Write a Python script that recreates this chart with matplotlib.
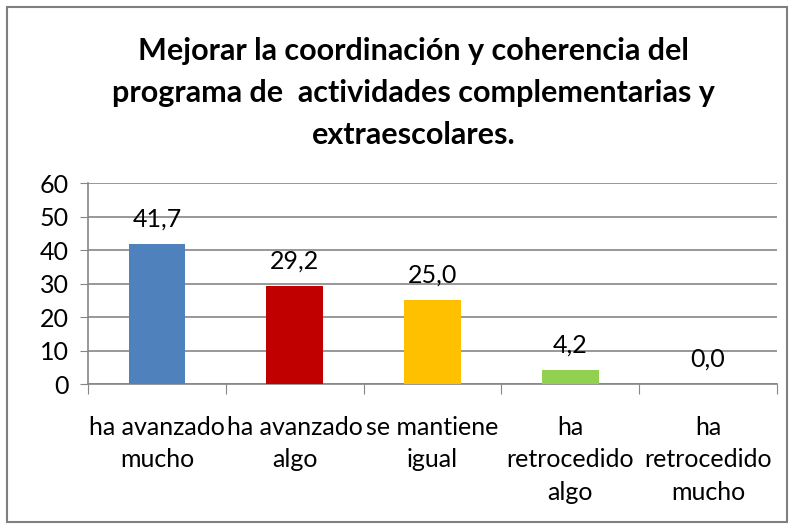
import numpy as np
import matplotlib.pyplot as plt
from matplotlib.patches import Rectangle

# chart data
categories = ['ha avanzado\nmucho', 'ha avanzado\nalgo', 'se mantiene\nigual',
              'ha\nretrocedido\nalgo', 'ha\nretrocedido\nmucho']
values = [41.7, 29.2, 25.0, 4.2, 0.0]
colors = ['#4F81BD', '#C00000', '#FFC000', '#92D050', '#8064A2']
title = ('Mejorar la coordinación y coherencia del\n'
         'programa de  actividades complementarias y\n'
         'extraescolares.')

plt.rcParams['font.family'] = ['Lato', 'DejaVu Sans']

fig = plt.figure(figsize=(7.95, 5.28), dpi=100)
ax = fig.add_axes([0.1107, 0.2727, 0.8666, 0.3807])

x = np.arange(len(values))
ax.bar(x, values, width=0.41, color=colors, zorder=3)

# value labels
for xi, v in zip(x, values):
    ax.text(xi, v + 4.0, f'{v:.1f}'.replace('.', ','), ha='center', va='bottom',
            fontsize=18, zorder=4)

ax.set_xlim(-0.5, len(values) - 0.5)
ax.set_ylim(0, 60)
ax.set_yticks(range(0, 61, 10))
ax.tick_params(axis='y', labelsize=18, length=6, color='#868686', pad=8)
ax.yaxis.grid(True, color='#868686', linewidth=1.2, zorder=0)

# category ticks at boundaries, labels at centres
ax.set_xticks(np.arange(-0.5, len(values)), minor=False)
ax.set_xticklabels([])
ax.set_xticks(x, minor=True)
ax.set_xticklabels(categories, minor=True, fontsize=18, linespacing=1.5)
ax.tick_params(axis='x', which='major', length=7, color='#868686')
ax.tick_params(axis='x', which='minor', length=0, pad=23)
for lbl in ax.get_xticklabels(minor=True):
    lbl.set_verticalalignment('top')

for side in ['top', 'right']:
    ax.spines[side].set_visible(False)
for side in ['left', 'bottom']:
    ax.spines[side].set_color('#868686')
    ax.spines[side].set_linewidth(1.2)

fig.text(0.52, 0.93, title, ha='center', va='top', fontsize=22,
         fontweight='bold', linespacing=1.6)

# outer border
fig.patches.append(Rectangle((0.009, 0.011), 0.981, 0.975, transform=fig.transFigure,
                             fill=False, edgecolor='#7f7f7f', linewidth=1.5))

fig.savefig('out.png', dpi=100)
